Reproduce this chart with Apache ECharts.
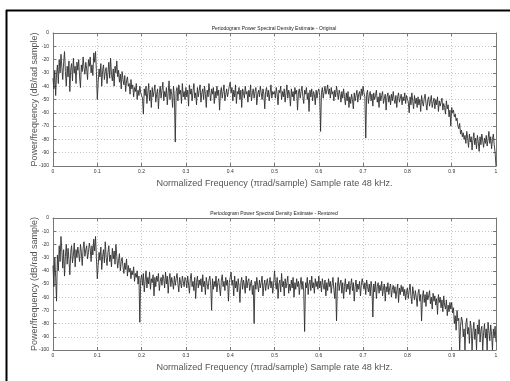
<!DOCTYPE html>
<html>
<head>
<meta charset="utf-8">
<script src="https://cdn.jsdelivr.net/npm/echarts@6/dist/echarts.min.js"></script>
<style>
html,body{margin:0;padding:0;background:#fff;}
#c{width:510px;height:381px;}
</style>
</head>
<body>
<div id="c"></div>
<script>
const xTicks = ['0','0.1','0.2','0.3','0.4','0.5','0.6','0.7','0.8','0.9','1'];
const yTicks = ['0','-10','-20','-30','-40','-50','-60','-70','-80','-90','-100'];
const titleOriginal = 'Periodogram Power Spectral Density Estimate - Original';
const titleRestored = 'Periodogram Power Spectral Density Estimate - Restored';
const xLabel = 'Normalized Frequency (\u03c0rad/sample) Sample rate 48 kHz.';
const yLabel = 'Power/frequency (dB/rad sample)';

// Original PSD (dB): one list per 0.1-wide frequency band, samples evenly spaced in the band
const originalBands = [
 [-34,-42,-28,-47,-31,-24,-38,-20,-30,-16,-26,-35,-22,-14,-29,-40,-25,-33,-21,-44,-27,-23,-36,-19,-30,-25,-38,-22,-28,-20,-33,-41,-24,-29,-18,-26,-31,-22,-27,-35,-20,-25,-18,-30,-24,-32,-15,-22,-14,-29],
 [-50,-37,-27,-33,-23,-40,-28,-24,-35,-29,-26,-38,-30,-22,-34,-19,-31,-36,-27,-40,-25,-30,-21,-33,-28,-37,-31,-42,-29,-35,-39,-32,-44,-36,-33,-40,-38,-46,-35,-42,-39,-48,-41,-44,-38,-50,-43,-47,-40,-45],
 [-44,-49,-61,-42,-47,-40,-53,-45,-38,-51,-43,-56,-41,-48,-44,-39,-52,-46,-42,-57,-45,-40,-49,-43,-37,-51,-44,-48,-41,-54,-45,-36,-50,-42,-46,-56,-40,-48,-82,-44,-41,-51,-39,-46,-43,-53,-38,-48,-44,-50],
 [-41,-48,-43,-55,-39,-46,-42,-51,-44,-38,-49,-45,-54,-41,-48,-43,-39,-52,-45,-42,-50,-40,-46,-56,-43,-48,-38,-45,-51,-42,-46,-41,-53,-44,-49,-40,-47,-43,-58,-45,-41,-49,-44,-39,-51,-46,-42,-48,-44,-40],
 [-37,-45,-41,-51,-43,-48,-39,-53,-44,-46,-41,-50,-43,-56,-42,-45,-49,-40,-46,-44,-52,-43,-48,-39,-51,-45,-42,-49,-44,-41,-54,-46,-43,-48,-40,-45,-50,-42,-46,-57,-44,-41,-48,-43,-51,-45,-39,-49,-44,-46],
 [-44,-49,-41,-46,-54,-43,-45,-40,-50,-44,-48,-42,-52,-45,-39,-49,-43,-46,-55,-42,-48,-44,-51,-41,-46,-43,-58,-45,-42,-49,-44,-40,-48,-53,-43,-46,-41,-50,-45,-59,-43,-48,-42,-51,-44,-46,-54,-43,-49,-44],
 [-42,-47,-74,-45,-41,-49,-44,-40,-46,-43,-39,-46,-42,-49,-41,-46,-44,-51,-43,-48,-40,-45,-50,-43,-46,-52,-44,-49,-42,-48,-54,-45,-51,-44,-56,-48,-53,-46,-50,-57,-45,-51,-47,-43,-52,-46,-44,-50,-42,-47],
 [-40,-45,-48,-79,-46,-43,-53,-47,-44,-51,-46,-55,-45,-50,-47,-43,-52,-48,-56,-45,-51,-47,-44,-53,-49,-46,-58,-48,-45,-52,-47,-54,-46,-51,-44,-50,-53,-47,-56,-48,-45,-52,-49,-46,-54,-48,-51,-45,-53,-47],
 [-46,-52,-60,-48,-54,-45,-51,-57,-47,-53,-49,-56,-48,-54,-50,-59,-47,-52,-55,-49,-46,-53,-58,-50,-48,-55,-51,-47,-56,-52,-49,-57,-50,-54,-48,-59,-51,-55,-52,-49,-58,-53,-56,-61,-51,-57,-54,-63,-58,-70],
 [-56,-60,-58,-63,-61,-66,-64,-70,-72,-68,-76,-73,-78,-75,-80,-77,-83,-74,-79,-86,-76,-82,-78,-88,-80,-75,-84,-79,-87,-77,-82,-89,-78,-84,-76,-81,-86,-79,-83,-77,-85,-80,-74,-83,-78,-87,-80,-76,-84,-90]
];
const originalAtNyquist = -100;

// Restored PSD (dB)
const restoredBands = [
 [-36,-52,-30,-45,-63,-28,-40,-21,-33,-14,-25,-38,-24,-44,-29,-20,-35,-23,-31,-43,-26,-21,-34,-28,-19,-37,-24,-30,-22,-27,-33,-20,-26,-36,-23,-18,-29,-24,-21,-31,-26,-19,-23,-33,-21,-28,-16,-25,-14,-30],
 [-46,-36,-26,-32,-22,-39,-29,-24,-34,-18,-30,-36,-26,-21,-33,-28,-37,-23,-31,-25,-35,-20,-29,-38,-32,-27,-40,-33,-30,-37,-42,-34,-39,-31,-44,-36,-41,-38,-46,-40,-43,-37,-48,-42,-45,-40,-50,-44,-79,-47],
 [-43,-51,-42,-56,-47,-40,-53,-45,-50,-41,-54,-46,-49,-43,-59,-45,-52,-44,-48,-42,-55,-48,-45,-51,-43,-46,-53,-41,-50,-44,-57,-47,-42,-52,-45,-49,-54,-44,-51,-46,-42,-50,-56,-45,-49,-53,-44,-48,-52,-45],
 [-47,-53,-44,-50,-57,-46,-42,-52,-48,-55,-45,-61,-49,-44,-53,-47,-51,-46,-56,-43,-52,-48,-58,-45,-50,-54,-47,-44,-51,-70,-46,-54,-48,-52,-44,-56,-49,-46,-53,-59,-47,-43,-52,-48,-55,-45,-51,-47,-63,-49],
 [-45,-41,-51,-47,-59,-44,-53,-48,-56,-46,-52,-64,-49,-45,-54,-47,-51,-57,-44,-53,-48,-46,-55,-50,-47,-58,-51,-80,-48,-54,-45,-51,-56,-47,-53,-49,-44,-59,-51,-47,-55,-49,-46,-54,-50,-45,-53,-48,-57,-50],
 [-40,-49,-54,-45,-61,-50,-47,-56,-42,-52,-48,-59,-46,-53,-49,-44,-57,-50,-55,-47,-53,-45,-60,-49,-54,-46,-52,-48,-58,-50,-45,-54,-48,-56,-86,-49,-53,-45,-58,-50,-47,-55,-44,-53,-49,-57,-46,-52,-48,-54],
 [-44,-53,-48,-56,-46,-51,-54,-47,-59,-49,-55,-46,-52,-48,-57,-50,-45,-54,-61,-49,-78,-52,-45,-55,-50,-47,-57,-49,-61,-52,-46,-56,-50,-54,-48,-58,-51,-46,-55,-49,-63,-52,-47,-56,-50,-54,-48,-59,-51,-46],
 [-45,-54,-49,-58,-47,-52,-56,-50,-59,-48,-53,-75,-50,-56,-48,-61,-52,-49,-57,-51,-55,-48,-59,-53,-50,-63,-52,-56,-49,-58,-53,-50,-60,-54,-51,-57,-52,-61,-55,-50,-64,-53,-58,-51,-56,-52,-59,-54,-62,-56],
 [-53,-61,-55,-50,-59,-65,-52,-57,-62,-55,-60,-67,-57,-54,-63,-58,-78,-60,-55,-64,-58,-67,-56,-62,-59,-55,-65,-60,-69,-57,-63,-59,-66,-61,-73,-58,-64,-60,-68,-62,-71,-59,-66,-69,-62,-74,-66,-71,-64,-69],
 [-64,-72,-68,-80,-74,-85,-70,-78,-76,-100,-82,-75,-78,-90,-84,-100,-80,-76,-88,-83,-95,-78,-83,-100,-86,-79,-92,-84,-100,-81,-88,-77,-94,-85,-82,-100,-87,-80,-91,-84,-100,-79,-86,-93,-81,-88,-100,-84,-90,-82]
];
const restoredAtNyquist = -94;

function toPairs(bands, last) {
  const out = [];
  bands.forEach((band, b) => {
    band.forEach((v, i) => out.push([b * 0.1 + i * 0.1 / band.length, v]));
  });
  out.push([1, last]);
  return out;
}

const FONT = 'Liberation Sans, Arial, sans-serif';
const grids = [
  {left: 53, top: 33, width: 443, height: 133},
  {left: 53, top: 218, width: 443, height: 132}
];

function xAxes(gi) {
  const base = {
    type: 'value', gridIndex: gi, min: 0, max: 1, interval: 0.1,
    axisLine: {show: true, onZero: false, lineStyle: {color: '#777', width: 1}},
    axisTick: {show: true, inside: true, length: 3, lineStyle: {color: '#777'}}
  };
  return [
    Object.assign({}, base, {
      position: 'bottom',
      axisLabel: {fontSize: 5, color: '#333', fontFamily: FONT, margin: 3,
        formatter: v => xTicks[Math.round(v * 10)]},
      splitLine: {show: true, lineStyle: {color: '#c4c4c4', type: [1, 2], width: 1}},
      name: xLabel, nameLocation: 'middle', nameGap: 13, nameMoveOverlap: false,
      nameTextStyle: {fontSize: 9.1, color: '#555', fontFamily: FONT}
    }),
    Object.assign({}, base, {
      position: 'top', axisLabel: {show: false}, splitLine: {show: false}
    })
  ];
}
function yAxes(gi) {
  const base = {
    type: 'value', gridIndex: gi, min: -100, max: 0, interval: 10,
    axisLine: {show: true, onZero: false, lineStyle: {color: '#777', width: 1}},
    axisTick: {show: true, inside: true, length: 3, lineStyle: {color: '#777'}}
  };
  return [
    Object.assign({}, base, {
      position: 'left',
      axisLabel: {fontSize: 5, color: '#333', fontFamily: FONT, margin: 4,
        formatter: v => yTicks[Math.round(-v / 10)]},
      splitLine: {show: true, lineStyle: {color: '#c4c4c4', type: [1, 2], width: 1}},
      name: yLabel, nameLocation: 'middle', nameGap: 14, nameRotate: 90, nameMoveOverlap: false,
      nameTextStyle: {fontSize: 9, color: '#555', fontFamily: FONT}
    }),
    Object.assign({}, base, {
      position: 'right', axisLabel: {show: false}, splitLine: {show: false}
    })
  ];
}

const chart = echarts.init(document.getElementById('c'), null, {renderer: 'canvas'});
chart.setOption({
  animation: false,
  backgroundColor: '#fff',
  title: [
    {text: titleOriginal, left: 274, top: 26, padding: 0, textAlign: 'center',
     textStyle: {fontSize: 5, fontWeight: 'normal', color: '#222', fontFamily: FONT}},
    {text: titleRestored, left: 274, top: 211, padding: 0, textAlign: 'center',
     textStyle: {fontSize: 5, fontWeight: 'normal', color: '#222', fontFamily: FONT}}
  ],
  grid: grids,
  xAxis: xAxes(0).concat(xAxes(1)),
  yAxis: yAxes(0).concat(yAxes(1)),
  series: [
    {type: 'line', xAxisIndex: 0, yAxisIndex: 0, data: toPairs(originalBands, originalAtNyquist),
     showSymbol: false, lineStyle: {color: '#303030', width: 0.9}},
    {type: 'line', xAxisIndex: 2, yAxisIndex: 2, data: toPairs(restoredBands, restoredAtNyquist),
     showSymbol: false, lineStyle: {color: '#303030', width: 0.9}}
  ],
  graphic: [
    {type: 'line', shape: {x1: 6.5, y1: 10, x2: 6.5, y2: 381}, style: {stroke: '#000', lineWidth: 2}},
    {type: 'line', shape: {x1: 6, y1: 10.5, x2: 510, y2: 10.5}, style: {stroke: '#000', lineWidth: 2}}
  ]
});
</script>
</body>
</html>
